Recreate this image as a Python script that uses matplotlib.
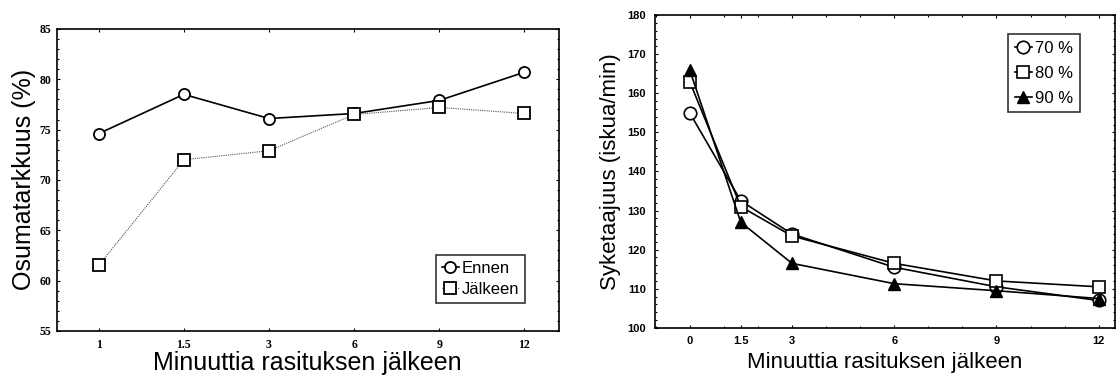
import matplotlib.pyplot as plt
import numpy as np
from matplotlib.ticker import MultipleLocator, FixedLocator, FixedFormatter

plt.rcParams["font.family"] = ["Liberation Sans", "DejaVu Sans"]

# left panel: hit accuracy before / after exertion
minutes_left = ["1", "1.5", "3", "6", "9", "12"]
ennen = [74.6, 78.5, 76.1, 76.6, 77.9, 80.7]
jalkeen = [61.5, 72.0, 72.9, 76.5, 77.2, 76.6]

# right panel: heart rate after exertion at three intensities
minutes_right = [0, 1.5, 3, 6, 9, 12]
minutes_right_labels = ["0", "1.5", "3", "6", "9", "12"]
hr_70 = [155.0, 132.5, 124.0, 115.5, 110.5, 107.0]
hr_80 = [163.0, 131.0, 123.5, 116.5, 112.0, 110.5]
hr_90 = [166.0, 127.0, 116.5, 111.3, 109.5, 107.5]

xlabel = "Minuuttia rasituksen jälkeen"

fig = plt.figure(figsize=(11.17, 3.76), dpi=100)

# ---- left panel
ax1 = fig.add_axes([0.051, 0.12, 0.449, 0.803])
pos = np.arange(len(minutes_left))
ax1.plot(pos, ennen, color="black", lw=1.2, marker="o", ms=8,
         mfc="white", mec="black", mew=1.3, label="Ennen")
ax1.plot(pos, jalkeen, color="#555555", lw=0.8, ls=(0, (1, 1)), marker="s",
         ms=8, mfc="white", mec="black", mew=1.3, label="Jälkeen")
ax1.set_xlim(-0.49, 5.4)
ax1.set_ylim(55, 85)
ax1.set_xticks(pos)
ax1.set_xticklabels(minutes_left)
ax1.yaxis.set_major_locator(MultipleLocator(5))
ax1.yaxis.set_minor_locator(MultipleLocator(1))
ax1.tick_params(which="both", direction="in", top=True, right=True,
                length=2, width=0.8, pad=6)
ax1.tick_params(axis="y", pad=4)
ax1.tick_params(which="minor", length=1.5)
for lab in ax1.get_xticklabels() + ax1.get_yticklabels():
    lab.set_family(["Liberation Serif", "DejaVu Serif"])
    lab.set_fontsize(8.5)
    lab.set_fontweight("bold")
ax1.set_xlabel(xlabel, fontsize=18, labelpad=0)
ax1.set_ylabel("Osumatarkkuus (%)", fontsize=18)
ax1.yaxis.set_label_coords(-0.042, 0.5)
for sp in ax1.spines.values():
    sp.set_linewidth(1.2)
leg1 = ax1.legend(loc="lower right", bbox_to_anchor=(0.934, 0.093), fontsize=12,
                  handlelength=1.0, handletextpad=0.2, borderpad=0.35,
                  labelspacing=0.35, borderaxespad=0, frameon=True,
                  fancybox=False, edgecolor="black")
leg1.get_frame().set_linewidth(1.2)

# ---- right panel
ax2 = fig.add_axes([0.586, 0.128, 0.412, 0.832])
ax2.plot(minutes_right, hr_70, color="black", lw=1.2, marker="o", ms=9,
         mfc="white", mec="black", mew=1.2, label="70 %")
ax2.plot(minutes_right, hr_80, color="black", lw=1.2, marker="s", ms=9,
         mfc="white", mec="black", mew=1.2, label="80 %")
ax2.plot(minutes_right, hr_90, color="black", lw=1.2, marker="^", ms=9,
         mfc="black", mec="black", label="90 %")
ax2.set_xlim(-1.03, 12.47)
ax2.set_ylim(100, 180)
ax2.xaxis.set_major_locator(FixedLocator(minutes_right))
ax2.xaxis.set_major_formatter(FixedFormatter(minutes_right_labels))
ax2.xaxis.set_minor_locator(MultipleLocator(1))
ax2.yaxis.set_major_locator(MultipleLocator(10))
ax2.yaxis.set_minor_locator(MultipleLocator(2))
ax2.tick_params(which="both", direction="in", top=True, right=True,
                length=2, width=0.8, pad=6, labelsize=8)
ax2.tick_params(which="minor", length=1.5)
for lab in ax2.get_xticklabels() + ax2.get_yticklabels():
    lab.set_fontweight("bold")
ax2.set_xlabel(xlabel, fontsize=16, labelpad=4)
ax2.set_ylabel("Syketaajuus (iskua/min)", fontsize=16, labelpad=5)
for sp in ax2.spines.values():
    sp.set_linewidth(1.2)
leg2 = ax2.legend(loc="upper right", bbox_to_anchor=(0.924, 0.939), fontsize=12,
                  handlelength=1.0, handletextpad=0.2, borderpad=0.4,
                  labelspacing=0.6, borderaxespad=0, frameon=True,
                  fancybox=False, edgecolor="black")
leg2.get_frame().set_linewidth(1.2)

fig.savefig("out.png", dpi=100)
